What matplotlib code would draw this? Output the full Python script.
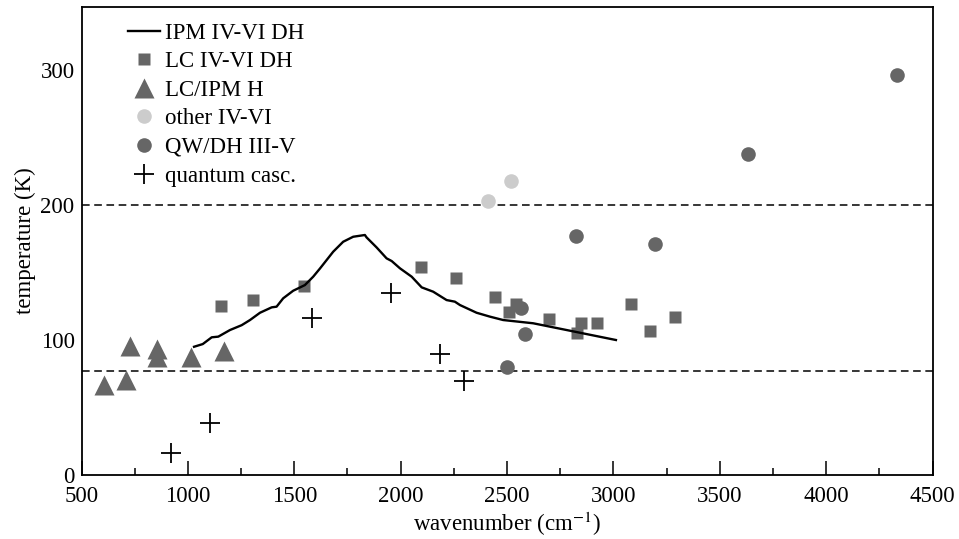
import matplotlib
matplotlib.use("Agg")
import matplotlib.pyplot as plt
from matplotlib.ticker import MultipleLocator

plt.rcParams["font.family"] = ["Liberation Serif", "DejaVu Serif"]
plt.rcParams["mathtext.fontset"] = "stix"

# IPM IV-VI double-heterostructure lasers (continuous curve)
ipm_wn = [1029, 1070, 1112, 1143, 1198, 1253, 1292, 1339, 1394, 1417, 1448, 1495,
          1550, 1589, 1621, 1683, 1730, 1777, 1832, 1840, 1887, 1934, 1958, 1997,
          2052, 2099, 2153, 2216, 2255, 2279, 2357, 2420, 2482, 2623, 2780, 2874, 3012]
ipm_t = [95, 97, 102, 102.5, 107.4, 111, 114.8, 120.2, 124.2, 124.7, 130.9, 136.5,
         140.7, 146.9, 153, 165.4, 172.8, 176.5, 177.8, 176, 168.6, 160.5, 158.5, 153.1,
         146.9, 139, 135.8, 129.6, 128.4, 125.9, 120.2, 117.3, 114.8, 112.4, 107.4, 104.4, 100]

# LC IV-VI double heterostructures
lc_wn = [1157, 1305, 1547, 2094, 2258, 2442, 2540, 2509, 2697, 2849, 2922, 2827,
         3082, 3170, 3290]
lc_t = [125.4, 129.9, 139.9, 154.4, 145.6, 131.9, 126.7, 120.5, 115.3, 112.4, 112.4,
        105.4, 126.7, 106.7, 117.3]

# LC/IPM homostructures
h_wn = [606, 711, 728, 853, 853, 1014, 1170]
h_t = [66.4, 70.6, 95.7, 93.6, 87.3, 87.5, 92]

# other IV-VI devices
other_wn = [2409, 2518]
other_t = [203, 217.8]

# QW/DH III-V lasers
iii_v_wn = [2567, 2586, 2498, 2825, 3198, 3631, 4335]
iii_v_t = [123.5, 104.2, 80, 177.3, 170.9, 237.8, 296]

# quantum cascade lasers
qc_wn = [921, 1104, 1585, 1956, 2183, 2296]
qc_t = [16, 38.7, 116.5, 134.6, 89.4, 69.9]

# reference temperatures (dashed guides)
guide_t = [200, 77]

dark = "#666666"
light = "#cccccc"

fig = plt.figure(figsize=(9.59, 5.39), dpi=100)
ax = fig.add_axes([81.5 / 959, 1 - 475 / 539, 851 / 959, 468 / 539])

for t in guide_t:
    ax.axhline(t, color="black", lw=1.1, dashes=(5, 3), zorder=1)

ax.plot(ipm_wn, ipm_t, color="black", lw=1.7, label="IPM IV-VI DH", zorder=3)
ax.plot(lc_wn, lc_t, "s", color=dark, ms=8.5, mec="none", label="LC IV-VI DH", zorder=2)
ax.plot(h_wn, h_t, "^", color=dark, ms=14, mec="none", label="LC/IPM H", zorder=2)
ax.plot(other_wn, other_t, "o", color=light, ms=10.5, mec="none", label="other IV-VI", zorder=2)
ax.plot(iii_v_wn, iii_v_t, "o", color=dark, ms=10.5, mec="none", label="QW/DH III-V", zorder=2)
ax.plot(qc_wn, qc_t, "+", color="black", ms=15, mew=1.3, label="quantum casc.", zorder=4)

ax.set_xlim(500, 4500)
ax.set_ylim(0, 346.7)
ax.xaxis.set_major_locator(MultipleLocator(500))
ax.xaxis.set_minor_locator(MultipleLocator(250))
ax.yaxis.set_major_locator(MultipleLocator(100))
ax.tick_params(axis="x", which="major", direction="in", length=10, width=1.1,
               labelsize=16.5, pad=8)
ax.tick_params(axis="x", which="minor", direction="in", length=5, width=1.1)
ax.tick_params(axis="y", which="major", length=0, labelsize=16.5, pad=5)
for s in ax.spines.values():
    s.set_linewidth(1.3)

ax.set_xlabel("wavenumber (cm$^{-1}$)", fontsize=16.5, labelpad=2)
ax.set_ylabel("temperature (K)", fontsize=16.5, labelpad=3.5)

leg = ax.legend(loc="upper left", bbox_to_anchor=(128 / 959, 1 - 22.5 / 539),
                bbox_transform=fig.transFigure, frameon=False, fontsize=16.5,
                borderpad=0, borderaxespad=0, handlelength=1.4, handletextpad=0.2,
                labelspacing=0.33, numpoints=1)

fig.savefig("out.png", dpi=100)
